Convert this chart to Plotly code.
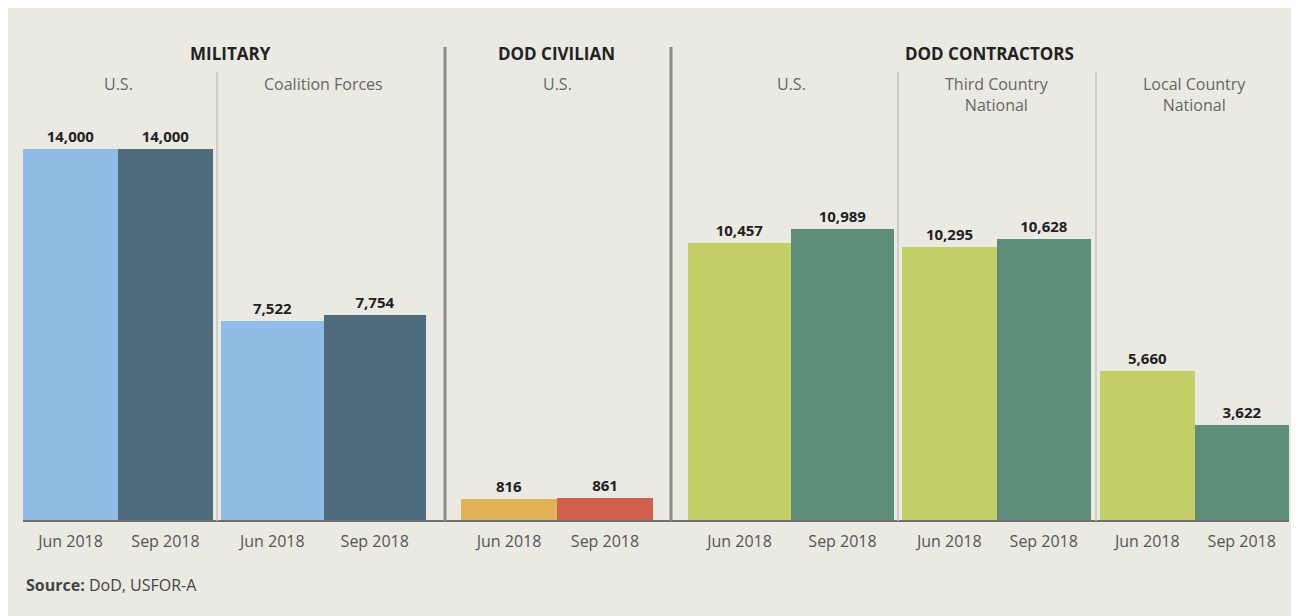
import plotly.graph_objects as go

# page body has an 8px margin, so the figure is drawn 8px smaller and offset
OFF = 8
W, H = 1299 - OFF, 616 - OFF

# data
periods = ["Jun 2018", "Sep 2018"]
groups = ["MILITARY", "DOD CIVILIAN", "DOD CONTRACTORS"]
subgroups = ["U.S.", "Coalition Forces", "U.S.", "U.S.", "Third Country<br>National", "Local Country<br>National"]
mil_us = [14000, 14000]
mil_coalition = [7522, 7754]
civ_us = [816, 861]
con_us = [10457, 10989]
con_tcn = [10295, 10628]
con_lcn = [5660, 3622]
series = [mil_us, mil_coalition, civ_us, con_us, con_tcn, con_lcn]

blue = ["#8fbde5", "#4f6b7e"]
civ = ["#e2b256", "#cf614e"]
green = ["#c5cf68", "#5e8e7a"]
colors = [blue, blue, civ, green, green, green]

# panel pixel extents in the reference (left, right)
panels = [(23, 213), (221, 426), (461, 653), (688, 894), (902, 1091), (1100, 1289)]
base_px, top_px = 521, 149

def px(x):
    return (x - OFF) / W

def py(y):
    return 1 - (y - OFF) / H

fig = go.Figure()
font = "Open Sans, Lato, sans-serif"

for i, (vals, cols, (l, r)) in enumerate(zip(series, colors, panels)):
    n = "" if i == 0 else str(i + 1)
    fig.add_trace(go.Bar(
        x=periods, y=vals, marker=dict(color=cols, line=dict(width=0)),
        text=[f"<b>{v:,}</b>" for v in vals], textposition="outside",
        textfont=dict(family=font, size=15, color="#222"),
        cliponaxis=False, showlegend=False,
        xaxis="x" + n, yaxis="y" + n,
    ))
    fig.update_layout(**{
        "xaxis" + n: dict(domain=[px(l), px(r)], anchor="y" + n, range=[-0.5, 1.5],
                          showgrid=False, zeroline=False, showline=False,
                          ticks="outside", ticklen=6, tickcolor="rgba(0,0,0,0)",
                          tickfont=dict(family=font, size=16, color="#555")),
        "yaxis" + n: dict(domain=[py(base_px), py(top_px)], anchor="x" + n, range=[0, 14000],
                          visible=False),
    })

shapes = [
    dict(type="line", xref="paper", yref="paper", x0=px(23), x1=px(1289), y0=py(base_px), y1=py(base_px),
         line=dict(color="#6e6e6e", width=2)),
]
for x in (445, 671):
    shapes.append(dict(type="line", xref="paper", yref="paper", x0=px(x), x1=px(x),
                       y0=py(base_px), y1=py(47), line=dict(color="#8a8a8a", width=3)))
for x in (217, 898, 1096):
    shapes.append(dict(type="line", xref="paper", yref="paper", x0=px(x), x1=px(x),
                       y0=py(base_px), y1=py(72), line=dict(color="#c4c4bc", width=1.5)))

annotations = []
for g, cx in zip(groups, (230, 556, 989)):
    annotations.append(dict(text=f"<b>{g}</b>", x=px(cx), y=py(53), xref="paper", yref="paper",
                            xanchor="center", yanchor="middle", showarrow=False,
                            font=dict(family=font, size=17, color="#222")))
for s, (l, r) in zip(subgroups, panels):
    annotations.append(dict(text=s, x=px((l + r) / 2), y=py(71), xref="paper", yref="paper",
                            xanchor="center", yanchor="top", showarrow=False,
                            font=dict(family=font, size=16, color="#666")))
annotations.append(dict(text="<b>Source:</b> DoD, USFOR-A", x=px(24), y=py(585), xref="paper", yref="paper",
                        xanchor="left", yanchor="middle", showarrow=False,
                        font=dict(family=font, size=16, color="#444")))

fig.update_layout(
    width=W, height=H, margin=dict(l=0, r=0, t=0, b=0),
    paper_bgcolor="#eaeae2", plot_bgcolor="rgba(0,0,0,0)",
    bargap=0, shapes=shapes, annotations=annotations,
)

fig.write_html("out.html")
